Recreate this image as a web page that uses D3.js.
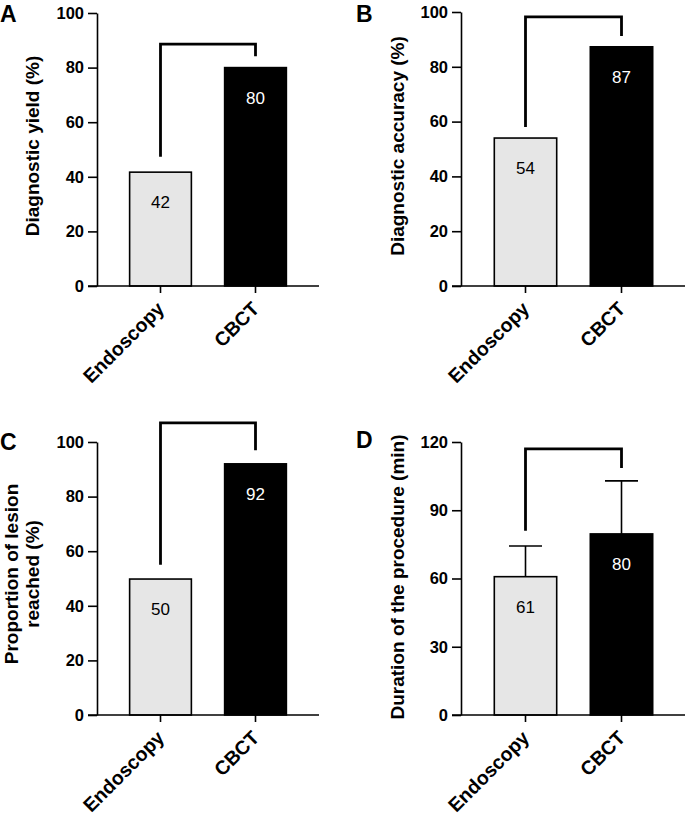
<!DOCTYPE html>
<html>
<head>
<meta charset="utf-8">
<script src="https://cdn.jsdelivr.net/npm/d3@7"></script>
<style>
  html, body { margin: 0; padding: 0; background: #fff; }
  svg { display: block; }
</style>
</head>
<body>
<svg id="chart" width="685" height="815"></svg>
<script>
// ---- data ----
const categories = ["Endoscopy", "CBCT"];
const yieldValues = [41.7, 80];
const accuracyValues = [54, 87.3];
const reachedValues = [49.8, 92];
const durationValues = [60.8, 79.6];
const durationErrors = [13.5, 23.3];
const percentTicks = [0, 20, 40, 60, 80, 100];
const durationTicks = [0, 30, 60, 90, 120];
// bracket: [top, left leg end, right leg end] in data units
const yieldBracket = [88.6, 47.3, 84.2];
const accuracyBracket = [98.2, 58, 91.2];
const reachedBracket = [107, 55, 97];
const durationBracket = [117, 81, 108.6];

const fills = ["#e6e6e6", "#000000"];
const labelColors = ["#000000", "#ffffff"];

const svg = d3.select("#chart");
const FONT = "'Liberation Sans', Arial, Helvetica, sans-serif";

const panels = [
  { letter: "A", lx: 0, ly: 21.5, axisX: 97, right: 319, y0: 286, yTop: 13, bandL: 113, bandR: 303,
    max: 100, ticks: percentTicks, values: yieldValues, bracket: yieldBracket,
    title: ["Diagnostic yield (%)"], titleX: [39], titleY: 146, titleSize: 19 },
  { letter: "B", lx: 356, ly: 21.5, axisX: 461, right: 685, y0: 286, yTop: 12, bandL: 477.5, bandR: 669.5,
    max: 100, ticks: percentTicks, values: accuracyValues, bracket: accuracyBracket,
    title: ["Diagnostic accuracy (%)"], titleX: [404], titleY: 146, titleSize: 19 },
  { letter: "C", lx: 0, ly: 450, axisX: 97, right: 319, y0: 715, yTop: 442, bandL: 113, bandR: 303,
    max: 100, ticks: percentTicks, values: reachedValues, bracket: reachedBracket,
    title: ["Proportion of lesion", "reached (%)"], titleX: [18, 38.5], titleY: 574, titleSize: 19 },
  { letter: "D", lx: 356, ly: 448, axisX: 461, right: 685, y0: 715, yTop: 442, bandL: 477.5, bandR: 669.5,
    max: 120, ticks: durationTicks, values: durationValues, errors: durationErrors, bracket: durationBracket,
    title: ["Duration of the procedure (min)"], titleX: [404], titleY: 577, titleSize: 19 }
];

panels.forEach(p => {
  const g = svg.append("g");
  const y = d3.scaleLinear().domain([0, p.max]).range([p.y0, p.yTop]);
  const x = d3.scaleBand().domain(categories).range([p.bandL, p.bandR])
    .paddingInner(0.35).paddingOuter(0.175);
  const data = categories.map((c, i) => ({ c, i, v: p.values[i], e: p.errors ? p.errors[i] : null }));

  // error bars (behind bars)
  if (p.errors) {
    const eg = g.append("g").attr("stroke", "#000").attr("stroke-width", 1.6).attr("fill", "none");
    data.forEach(d => {
      const cx = x(d.c) + x.bandwidth() / 2;
      eg.append("line").attr("x1", cx).attr("x2", cx).attr("y1", y(d.v)).attr("y2", y(d.v + d.e));
      eg.append("line").attr("x1", cx - 16.5).attr("x2", cx + 16.5).attr("y1", y(d.v + d.e)).attr("y2", y(d.v + d.e));
    });
  }

  // bars
  g.selectAll("rect.bar").data(data).join("rect")
    .attr("class", "bar")
    .attr("x", d => x(d.c))
    .attr("width", x.bandwidth())
    .attr("y", d => y(d.v))
    .attr("height", d => y(0) - y(d.v))
    .attr("fill", d => fills[d.i])
    .attr("stroke", "#000")
    .attr("stroke-width", 1.6);

  // value labels
  g.selectAll("text.val").data(data).join("text")
    .attr("class", "val")
    .attr("x", d => x(d.c) + x.bandwidth() / 2)
    .attr("y", d => y(d.v) + 36)
    .attr("text-anchor", "middle")
    .attr("font-family", FONT)
    .attr("font-size", 17)
    .attr("fill", d => labelColors[d.i])
    .text(d => Math.round(d.v));

  // y axis
  const ya = g.append("g").attr("transform", `translate(${p.axisX},0)`)
    .call(d3.axisLeft(y).tickValues(p.ticks).tickSize(9).tickSizeOuter(0).tickPadding(4));
  ya.selectAll("path, line").attr("stroke", "#000").attr("stroke-width", 1.6);
  ya.selectAll("text").attr("font-family", FONT).attr("font-size", 16.5)
    .attr("font-weight", "bold").attr("fill", "#000");

  // x axis baseline
  g.append("line").attr("x1", p.axisX - 9).attr("x2", p.right)
    .attr("y1", p.y0).attr("y2", p.y0).attr("stroke", "#000").attr("stroke-width", 1.6);
  const xa = g.append("g").attr("transform", `translate(0,${p.y0})`)
    .call(d3.axisBottom(x).tickSize(7).tickSizeOuter(0));
  xa.select(".domain").remove();
  xa.selectAll("line").attr("stroke", "#000").attr("stroke-width", 1.6);
  xa.selectAll("text")
    .attr("font-family", FONT).attr("font-size", 19.5).attr("font-weight", "bold").attr("fill", "#000")
    .attr("text-anchor", "end")
    .attr("dy", null)
    .attr("y", null)
    .attr("transform", "translate(5,24) rotate(-45)");

  // bracket
  const [bt, bl, br] = p.bracket;
  const x1 = x(categories[0]) + x.bandwidth() / 2;
  const x2 = x(categories[1]) + x.bandwidth() / 2;
  g.append("path")
    .attr("d", `M${x1},${y(bl)}V${y(bt)}H${x2}V${y(br)}`)
    .attr("fill", "none").attr("stroke", "#000").attr("stroke-width", 2.8)
    .attr("stroke-linejoin", "miter");

  // y title
  p.title.forEach((t, k) => {
    g.append("text")
      .attr("transform", `translate(${p.titleX[k]},${p.titleY}) rotate(-90)`)
      .attr("text-anchor", "middle")
      .attr("font-family", FONT).attr("font-size", p.titleSize).attr("font-weight", "bold").attr("fill", "#000")
      .text(t);
  });

  // panel letter
  g.append("text").attr("x", p.lx).attr("y", p.ly)
    .attr("font-family", FONT).attr("font-size", 23).attr("font-weight", "bold").attr("fill", "#000")
    .text(p.letter);
});
</script>
</body>
</html>
